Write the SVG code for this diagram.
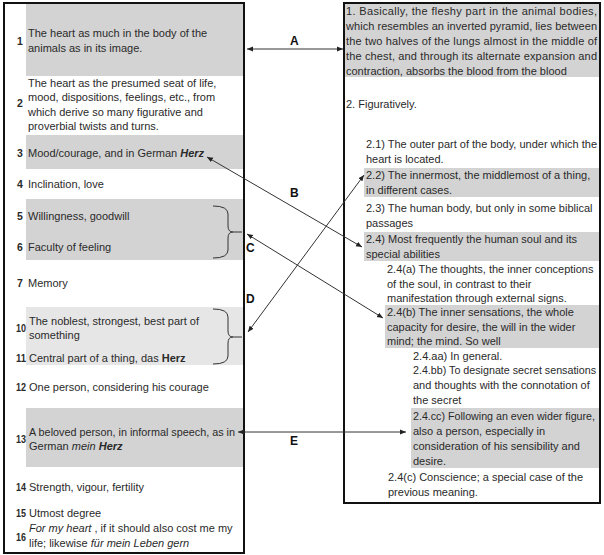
<svg xmlns="http://www.w3.org/2000/svg" width="604" height="555" viewBox="0 0 604 555">
<style>
text{font-family:"Liberation Sans",Arial,sans-serif;font-size:11px;fill:#2a2a2a}
.n{font-weight:bold;font-size:10.5px}
.l{font-weight:bold;font-size:12px;fill:#111}
.g{fill:#d3d3d3}
.g2{fill:#e6e6e6}
.box{fill:none;stroke:#111;stroke-width:2}
.br{fill:none;stroke:#333;stroke-width:1}
.c{stroke:#333;stroke-width:1;fill:none;marker-start:url(#ah);marker-end:url(#ah)}
.i{font-style:italic}
.b{font-weight:bold}
</style>
<defs>
<marker id="ah" viewBox="0 0 6 6" refX="6" refY="3" markerWidth="6" markerHeight="6" markerUnits="userSpaceOnUse" orient="auto-start-reverse">
<path d="M0,0.5 L6,3 L0,5.5 z" fill="#222"/>
</marker>
</defs>
<rect x="0" y="0" width="604" height="555" fill="#fff"/>

<g id="left">
<rect class="g" x="26" y="4" width="217" height="72"/>
<rect class="g" x="26" y="135" width="217" height="34"/>
<rect class="g" x="26" y="199" width="217" height="61"/>
<rect class="g2" x="26" y="307" width="217" height="58"/>
<rect class="g" x="26" y="408" width="217" height="59"/>
<rect class="box" x="4" y="3" width="240" height="550"/>
</g>

<g id="n1"><text class="n" x="17" y="45">1</text><text x="28" y="37">The heart as much in the body of the</text><text x="28" y="52">animals as in its image.</text></g>
<g id="n2"><text class="n" x="17" y="107">2</text><text x="28" y="87">The heart as the presumed seat of life,</text><text x="28" y="101">mood, dispositions, feelings, etc., from</text><text x="28" y="116">which derive so many figurative and</text><text x="28" y="130">proverbial twists and turns.</text></g>
<g id="n3"><text class="n" x="17" y="157">3</text><text x="28" y="157">Mood/courage, and in German <tspan class="b i">Herz</tspan></text></g>
<g id="n4"><text class="n" x="17" y="188">4</text><text x="28" y="188">Inclination, love</text></g>
<g id="n5"><text class="n" x="17" y="220">5</text><text x="28" y="220">Willingness, goodwill</text></g>
<g id="n6"><text class="n" x="17" y="251">6</text><text x="28" y="251">Faculty of feeling</text></g>
<g id="n7"><text class="n" x="17" y="287">7</text><text x="28" y="287">Memory</text></g>
<g id="n10"><text class="n" x="16" y="332" textLength="10" lengthAdjust="spacingAndGlyphs">10</text><text x="29" y="325">The noblest, strongest, best part of</text><text x="29" y="339">something</text></g>
<g id="n11"><text class="n" x="16" y="362" textLength="10" lengthAdjust="spacingAndGlyphs">11</text><text x="29" y="362">Central part of a thing, das <tspan class="b">Herz</tspan></text></g>
<g id="n12"><text class="n" x="16" y="391" textLength="10" lengthAdjust="spacingAndGlyphs">12</text><text x="29" y="391">One person, considering his courage</text></g>
<g id="n13"><text class="n" x="16" y="443" textLength="10" lengthAdjust="spacingAndGlyphs">13</text><text x="29" y="436" textLength="206" lengthAdjust="spacingAndGlyphs">A beloved person, in informal speech, as in</text><text x="29" y="450">German <tspan class="i">mein</tspan>  <tspan class="b i">Herz</tspan></text></g>
<g id="n14"><text class="n" x="16" y="491" textLength="10" lengthAdjust="spacingAndGlyphs">14</text><text x="29" y="491">Strength, vigour, fertility</text></g>
<g id="n15"><text class="n" x="16" y="517" textLength="10" lengthAdjust="spacingAndGlyphs">15</text><text x="29" y="517">Utmost degree</text></g>
<g id="n16"><text class="n" x="16" y="541" textLength="10" lengthAdjust="spacingAndGlyphs">16</text><text x="29" y="532"><tspan class="i">For my heart</tspan> , if it should also cost me my</text><text x="29" y="547">life; likewise <tspan class="i">für mein Leben gern</tspan></text></g>

<g id="brackets">
<path class="br" d="M213,206 Q228,206 228,214 L228,226 Q228,232 233,232 Q228,232 228,238 L228,250 Q228,258 213,258 M233,232 L242,232"/>
<path class="br" d="M213,309 Q228,309 228,317 L228,331 Q228,337 233,337 Q228,337 228,343 L228,356 Q228,364 213,364 M233,337 L242,337"/>
</g>

<g id="right">
<rect class="g" x="345" y="4" width="254" height="73"/>
<rect class="g" x="364" y="168" width="235" height="29"/>
<rect class="g" x="364" y="232" width="235" height="29"/>
<rect class="g" x="385" y="305" width="214" height="43"/>
<rect class="g" x="411" y="408" width="188" height="60"/>
<rect class="box" x="344" y="3" width="256" height="500"/>
</g>

<g id="r1"><text x="346" y="15" textLength="251" lengthAdjust="spacing">1. Basically, the fleshy part in the animal bodies,</text><text x="346" y="30" textLength="251" lengthAdjust="spacing">which resembles an inverted pyramid, lies between</text><text x="346" y="45" textLength="251" lengthAdjust="spacing">the two halves of the lungs almost in the middle of</text><text x="346" y="60" textLength="251" lengthAdjust="spacing">the chest, and through its alternate expansion and</text><text x="346" y="75">contraction, absorbs the blood from the blood</text></g>
<g id="r2"><text x="346" y="108">2. Figuratively.</text></g>
<g id="r21"><text x="366" y="148" textLength="231" lengthAdjust="spacingAndGlyphs">2.1) The outer part of the body, under which the</text><text x="366" y="163">heart is located.</text></g>
<g id="r22"><text x="366" y="179">2.2) The innermost, the middlemost of a thing,</text><text x="366" y="194">in different cases.</text></g>
<g id="r23"><text x="366" y="212">2.3) The human body, but only in some biblical</text><text x="366" y="227">passages</text></g>
<g id="r24"><text x="366" y="243">2.4) Most frequently the human soul and its</text><text x="366" y="258">special abilities</text></g>
<g id="r24a"><text x="387" y="273">2.4(a) The thoughts, the inner conceptions</text><text x="387" y="288">of the soul, in contrast to their</text><text x="387" y="302">manifestation through external signs.</text></g>
<g id="r24b"><text x="387" y="316">2.4(b) The inner sensations, the whole</text><text x="387" y="331">capacity for desire, the will in the wider</text><text x="387" y="345">mind; the mind. So well</text></g>
<g id="r24aa"><text x="413" y="360">2.4.aa) In general.</text></g>
<g id="r24bb"><text x="413" y="374" textLength="183" lengthAdjust="spacingAndGlyphs">2.4.bb) To designate secret sensations</text><text x="413" y="389">and thoughts with the connotation of</text><text x="413" y="404">the secret</text></g>
<g id="r24cc"><text x="413" y="420" textLength="182" lengthAdjust="spacingAndGlyphs">2.4.cc) Following an even wider figure,</text><text x="413" y="435">also a person, especially in</text><text x="413" y="450">consideration of his sensibility and</text><text x="413" y="465">desire.</text></g>
<g id="r24c"><text x="388" y="481">2.4(c) Conscience; a special case of the</text><text x="388" y="496">previous meaning.</text></g>

<g id="connectors">
<line class="c" x1="247" y1="49" x2="343" y2="49"/>
<line class="c" x1="207" y1="157" x2="362" y2="247"/>
<line class="c" x1="247" y1="234" x2="383" y2="318"/>
<line class="c" x1="248" y1="332" x2="364" y2="175"/>
<line class="c" x1="238" y1="432" x2="406" y2="432"/>
<text class="l" x="290" y="45">A</text>
<text class="l" x="290" y="197">B</text>
<text class="l" x="246" y="252">C</text>
<text class="l" x="246" y="303">D</text>
<text class="l" x="290" y="445">E</text>
</g>
</svg>
